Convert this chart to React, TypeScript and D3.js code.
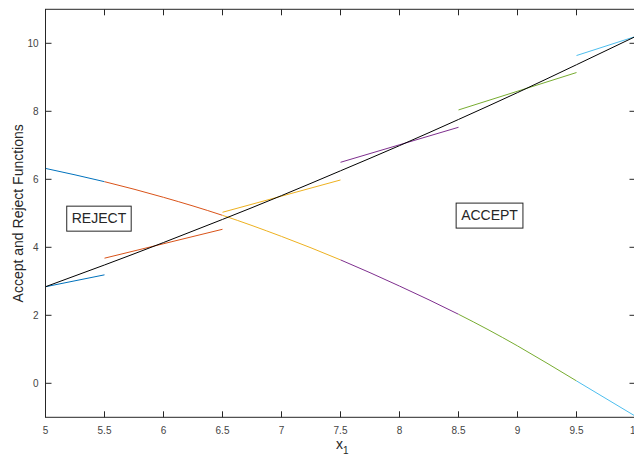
import React from "react";
import { select, scaleLinear, line, curveNatural } from "d3";

// sample points
const xGrid = [5, 5.5, 6, 6.5, 7, 7.5, 8, 8.5, 9, 9.5, 10];
const acceptVals = [2.84, 3.48, 4.14, 4.82, 5.52, 6.25, 6.99, 7.76, 8.55, 9.37, 10.2];
const rejectVals = [6.32, 5.93, 5.47, 4.94, 4.32, 3.63, 2.86, 2.03, 1.1, 0.07, -0.97];

// coloured pieces of the reject curve and the short linear pieces
const segStart = [5, 5.5, 6.5, 7.5, 8.5, 9.5];
const segEnd = [5.5, 6.5, 7.5, 8.5, 9.5, 10];
const segColors = ["#0072BD", "#D95319", "#EDB120", "#7E2F8E", "#77AC30", "#4DBEEE"];
const tanStartVals = [2.84, 3.68, 5.03, 6.5, 8.04, 9.64];
const tanEndVals = [3.19, 4.53, 5.98, 7.53, 9.14, 10.2];

const xTicks = [5, 5.5, 6, 6.5, 7, 7.5, 8, 8.5, 9, 9.5, 10];
const yTicks = [0, 2, 4, 6, 8, 10];

const notes = ["REJECT", "ACCEPT"];
const noteX = [5.18, 8.48];
const noteY = [5.21, 5.3];

const W = 634;
const H = 458;
const box = { left: 45.5, right: 635.5, top: 9.3, bottom: 417.3 };
const axisColor = "#262626";
const font = "'Liberation Sans', Arial, Helvetica, sans-serif";

export default function App() {
  const svgRef = React.useRef<SVGSVGElement>(null);

  React.useEffect(() => {
    const svg = select(svgRef.current);
    svg.selectAll("*").remove();

    const x = scaleLinear().domain([5, 10]).range([box.left, box.right]);
    const y = scaleLinear().domain([-1, 11]).range([box.bottom, box.top]);

    const defs = svg.append("defs");
    segStart.forEach((s, i) => {
      defs
        .append("clipPath")
        .attr("id", `seg${i}`)
        .append("rect")
        .attr("x", x(s))
        .attr("y", 0)
        .attr("width", x(segEnd[i]) - x(s))
        .attr("height", H);
    });

    const pts = (vals: number[]) => xGrid.map((d, i) => [d, vals[i]] as [number, number]);
    const path = line<[number, number]>()
      .x((d) => x(d[0]))
      .y((d) => y(d[1]))
      .curve(curveNatural);

    const plot = svg.append("g").attr("fill", "none").attr("stroke-width", 1);

    // reject curve, one colour per piece
    segColors.forEach((c, i) => {
      plot
        .append("path")
        .attr("d", path(pts(rejectVals)))
        .attr("stroke", c)
        .attr("clip-path", `url(#seg${i})`);
    });

    // short linear pieces
    segStart.forEach((s, i) => {
      plot
        .append("line")
        .attr("x1", x(s))
        .attr("y1", y(tanStartVals[i]))
        .attr("x2", x(segEnd[i]))
        .attr("y2", y(tanEndVals[i]))
        .attr("stroke", segColors[i]);
    });

    // accept function
    plot.append("path").attr("d", path(pts(acceptVals))).attr("stroke", "#000");

    // axes box with inward ticks
    const ax = svg.append("g").attr("stroke", axisColor).attr("stroke-width", 1);
    ax.append("rect")
      .attr("x", box.left)
      .attr("y", box.top)
      .attr("width", box.right - box.left)
      .attr("height", box.bottom - box.top)
      .attr("fill", "none");
    const tl = 6;
    xTicks.forEach((t) => {
      ax.append("line").attr("x1", x(t)).attr("x2", x(t)).attr("y1", box.bottom).attr("y2", box.bottom - tl);
      ax.append("line").attr("x1", x(t)).attr("x2", x(t)).attr("y1", box.top).attr("y2", box.top + tl);
    });
    yTicks.forEach((t) => {
      ax.append("line").attr("x1", box.left).attr("x2", box.left + tl).attr("y1", y(t)).attr("y2", y(t));
      ax.append("line").attr("x1", box.right).attr("x2", box.right - tl).attr("y1", y(t)).attr("y2", y(t));
    });

    const labels = svg.append("g").attr("font-family", font).attr("font-size", 10).attr("fill", "#444");
    xTicks.forEach((t) => {
      labels
        .append("text")
        .attr("x", x(t))
        .attr("y", box.bottom + 17)
        .attr("text-anchor", "middle")
        .text(String(t));
    });
    yTicks.forEach((t) => {
      labels
        .append("text")
        .attr("x", box.left - 7)
        .attr("y", y(t) + 3.5)
        .attr("text-anchor", "end")
        .text(String(t));
    });

    // axis titles
    const xl = svg
      .append("text")
      .attr("x", 336)
      .attr("y", 449)
      .attr("font-family", font)
      .attr("font-size", 14)
      .attr("fill", axisColor);
    xl.append("tspan").text("x");
    xl.append("tspan").attr("font-size", 10).attr("dy", 5).text("1");

    svg
      .append("text")
      .attr("transform", `translate(23,${(box.top + box.bottom) / 2}) rotate(-90)`)
      .attr("text-anchor", "middle")
      .attr("font-family", font)
      .attr("font-size", 14)
      .attr("fill", axisColor)
      .text("Accept and Reject Functions");

    // text boxes
    notes.forEach((n, i) => {
      const g = svg.append("g");
      const bx = x(noteX[i]);
      const by = y(noteY[i]);
      const rect = g.append("rect").attr("fill", "#fff").attr("stroke", axisColor);
      const txt = g
        .append("text")
        .attr("x", bx + 5)
        .attr("y", by + 12 + 5)
        .attr("font-family", font)
        .attr("font-size", 14)
        .attr("fill", axisColor)
        .text(n);
      const w = (txt.node() as SVGTextElement).getComputedTextLength();
      rect.attr("x", bx).attr("y", by).attr("width", w + 10).attr("height", 25);
    });
  }, []);

  return (
    <svg
      ref={svgRef}
      width={W}
      height={H}
      style={{ position: "absolute", left: 0, top: 0, background: "#fff" }}
    />
  );
}
